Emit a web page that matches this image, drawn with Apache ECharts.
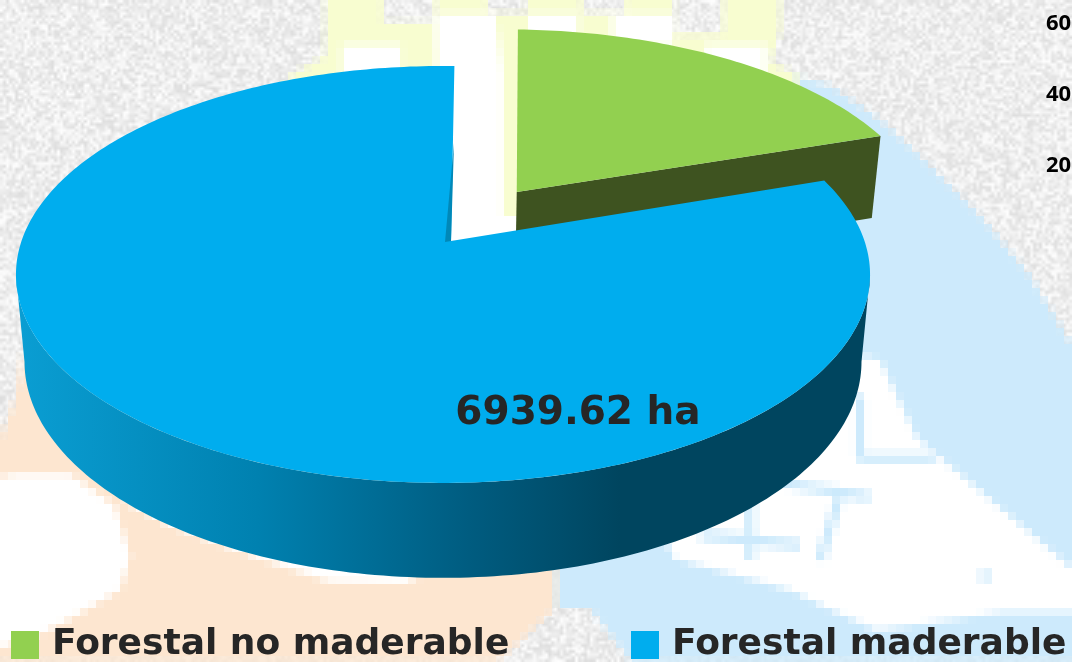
<!DOCTYPE html>
<html>
<head>
<meta charset="utf-8">
<title>Forestal</title>
<style>
  html, body { margin: 0; padding: 0; background: #eee; }
  #chart { width: 1072px; height: 662px; }
</style>
<script src="https://cdn.jsdelivr.net/npm/echarts@6/dist/echarts.min.js"></script>
</head>
<body>
<div id="chart"></div>
<script>
// values, only the 6939.62 is printed on it
const categories = ['Forestal no maderable', 'Forestal maderable']
const values = [1675, 6939.62]
const labels = ['', '6939.62 ha']
const clippedTicks = ['60', '40', '20']

const colors = ['#92d050', '#00adee']
const wallColors = ['#3e5320', '#0088b8']
const textColor = '#262626'
const textFont = '"Comic Sans MS", "DejaVu Sans", sans-serif'

// pie geometry: unit disc seen through a simple perspective
const startDeg = 1.8
const centerX = 443
const hubY = 241
const radiusX = 421.5
const radiusY = 203.1
const persp = 0.1606
const wallScaleX = 0.98
const wallScaleY = 1.037
const wallShiftY = 77
const explodeU = [0.182, 0]
const explodeV = [-0.251, 0]
const hubU = [0, 0.019]

function project (u, v) {
  const w = 1 - persp * v
  return [centerX + radiusX * u / w, hubY + radiusY * v / w]
}
function toBottom (p) {
  return [centerX + (p[0] - centerX) * wallScaleX, p[1] * wallScaleY + wallShiftY]
}
function arcPoint (deg, i) {
  const a = deg * Math.PI / 180
  return project(Math.sin(a) + explodeU[i], -Math.cos(a) + explodeV[i])
}
function arcPoints (from, to, i) {
  const pts = []
  const n = Math.max(2, Math.ceil(Math.abs(to - from)))
  for (let k = 0; k <= n; k++) {
    pts.push(arcPoint(from + (to - from) * k / n, i))
  }
  return pts
}

function sliceAngles (i) {
  const total = values.reduce((a, b) => a + b, 0)
  let from = startDeg
  for (let k = 0; k < i; k++) from += values[k] / total * 360
  return [from, from + values[i] / total * 360]
}

const frontWall = new echarts.graphic.LinearGradient(16, 0, 620, 0, [
  { offset: 0, color: '#0a9ed3' },
  { offset: 0.4, color: '#0081b0' },
  { offset: 0.75, color: '#005c80' },
  { offset: 1, color: '#00455f' }
], true)

function renderSlice (i) {
  return function (params, api) {
    const [from, to] = sliceAngles(i)
    const hub = project(explodeU[i] + hubU[i], explodeV[i])
    const arc = arcPoints(from, to, i)
    const children = []
    if (i === 0) {
      // green slice: only the cut wall at its end shows
      const tip = arc[arc.length - 1]
      children.push({
        type: 'polygon',
        shape: { points: [hub, tip, toBottom(tip), toBottom(hub)] },
        style: { fill: wallColors[0] }
      })
    } else {
      // blue slice: the round wall between the two side extremes of the ellipse
      const side = Math.acos(-persp) * 180 / Math.PI
      const top = arcPoints(side, 360 - side, i)
      const points = top.concat(top.map(toBottom).reverse())
      children.push({
        type: 'polygon',
        shape: { points: points },
        style: { fill: frontWall }
      })
    }
    children.push({
      type: 'polygon',
      shape: { points: [hub].concat(arc) },
      style: { fill: colors[i] }
    })
    if (i === 1) {
      // thin dark sliver on the cut at the gap
      const mid = [hub[0] + 3, hub[1] - 98]
      children.push({
        type: 'polygon',
        shape: { points: [mid, hub, [hub[0] - 6, hub[1] + 1]] },
        style: { fill: wallColors[1] }
      })
      children.push({
        type: 'text',
        style: {
          text: labels[i],
          x: 578,
          y: 414,
          align: 'center',
          verticalAlign: 'middle',
          fill: textColor,
          font: 'bold 39px ' + textFont
        }
      })
    }
    return { type: 'group', children: children }
  }
}

// picture behind the chart: grey paper and a blocky washed out drawing
// a null colour punches the paper back through
const pastel = [
  ['#f8fdd0', [[326, 0], [780, 0], [780, 30], [770, 62], [800, 76], [830, 100], [440, 120], [280, 90], [290, 75], [326, 55]]],
  ['#f8fdd0', [[495, 60], [520, 60], [520, 240], [495, 240]]],
  [null, [[383, 0], [435, 0], [435, 23], [383, 23]]],
  [null, [[487, 0], [527, 0], [527, 14], [487, 14]]],
  [null, [[582, 0], [625, 0], [625, 14], [582, 14]]],
  [null, [[673, 0], [723, 0], [723, 34], [673, 34]]],
  ['#ffffff', [[435, 14], [495, 14], [503, 70], [503, 215], [520, 215], [520, 245], [440, 245]]],
  ['#ffffff', [[528, 14], [578, 14], [578, 34], [528, 34]]],
  ['#ffffff', [[612, 14], [673, 14], [673, 46], [612, 46]]],
  ['#ffffff', [[705, 45], [766, 45], [766, 72], [705, 72]]],
  ['#ffffff', [[342, 45], [401, 45], [401, 75], [342, 75]]],
  ['#cdeafc', [[795, 75], [830, 85], [880, 120], [930, 165], [980, 215], [1030, 275], [1072, 345], [1072, 662], [632, 662], [590, 608], [555, 608], [555, 560], [700, 500], [860, 300]]],
  ['#ffffff', [[860, 355], [880, 360], [917, 437], [1072, 567], [1072, 612], [1003, 612], [877, 630], [827, 607], [790, 590], [673, 557], [660, 520], [800, 400]]],
  ['#fde6d0', [[25, 345], [15, 400], [0, 440], [0, 662], [497, 662], [555, 608], [555, 540], [300, 420]]],
  ['#ffffff', [[0, 478], [15, 474], [70, 473], [115, 505], [130, 555], [120, 590], [75, 615], [45, 632], [0, 648]]],
  ['#ffffff', [[120, 500], [170, 525], [240, 552], [330, 582], [420, 584], [250, 500]]]
]
const pastelLines = [
  [[860, 395], [860, 460]],
  [[860, 458], [935, 458]],
  [[775, 482], [870, 497]],
  [[840, 495], [820, 560]],
  [[700, 535], [800, 545]],
  [[750, 470], [750, 560]],
  [[985, 570], [985, 582]]
]

function paperBackground () {
  const width = 1072
  const height = 662
  const canvas = document.createElement('canvas')
  canvas.width = width
  canvas.height = height
  const ctx = canvas.getContext('2d')

  // paper grain, small fixed hash so it looks the same every run
  const grain = document.createElement('canvas')
  grain.width = 358
  grain.height = 221
  const gctx = grain.getContext('2d')
  const img = gctx.createImageData(358, 221)
  let seed = 12345
  for (let k = 0; k < img.data.length; k += 4) {
    seed = (seed * 1103515245 + 12345) & 0x7fffffff
    const g = 222 + (seed >> 16) % 33
    img.data[k] = img.data[k + 1] = img.data[k + 2] = g
    img.data[k + 3] = 255
  }
  gctx.putImageData(img, 0, 0)
  ctx.imageSmoothingEnabled = true
  ctx.drawImage(grain, 0, 0, width, height)

  // the drawing itself at low resolution, then blown up
  const cell = 8
  const low = document.createElement('canvas')
  low.width = Math.ceil(width / cell)
  low.height = Math.ceil(height / cell)
  const lctx = low.getContext('2d')
  lctx.scale(1 / cell, 1 / cell)
  pastel.forEach(([fill, pts]) => {
    lctx.globalCompositeOperation = fill ? 'source-over' : 'destination-out'
    lctx.fillStyle = fill || '#000'
    lctx.beginPath()
    pts.forEach((p, k) => (k ? lctx.lineTo(p[0], p[1]) : lctx.moveTo(p[0], p[1])))
    lctx.closePath()
    lctx.fill()
  })
  lctx.globalCompositeOperation = 'source-over'
  lctx.strokeStyle = '#cdeafc'
  lctx.lineWidth = 9
  pastelLines.forEach(([a, b]) => {
    lctx.beginPath()
    lctx.moveTo(a[0], a[1])
    lctx.lineTo(b[0], b[1])
    lctx.stroke()
  })
  ctx.imageSmoothingEnabled = false
  ctx.drawImage(low, 0, 0, low.width * cell, low.height * cell)
  return canvas
}

function legendAt (i, left) {
  return {
    data: [categories[i]],
    left: left,
    top: 627,
    padding: 0,
    icon: 'rect',
    itemWidth: 28,
    itemHeight: 28,
    selectedMode: false,
    textStyle: {
      color: textColor,
      fontFamily: textFont,
      fontWeight: 'bold',
      fontSize: 36,
      padding: [0, 0, 0, 8]
    }
  }
}

const chart = echarts.init(document.getElementById('chart'), null, { renderer: 'canvas' })
chart.setOption({
  animation: false,
  backgroundColor: { image: paperBackground(), repeat: 'no-repeat' },
  legend: [legendAt(0, 11), legendAt(1, 631)],
  graphic: clippedTicks.map((t, k) => ({
    type: 'text',
    x: 1046,
    y: 24 + k * 71,
    style: {
      text: t,
      fill: '#000',
      font: 'bold 22px "Open Sans", sans-serif',
      verticalAlign: 'middle'
    }
  })),
  series: categories.map((name, i) => ({
    type: 'custom',
    name: name,
    coordinateSystem: 'none',
    silent: true,
    itemStyle: { color: colors[i] },
    renderItem: renderSlice(i),
    data: [values[i]]
  }))
})
</script>
</body>
</html>
